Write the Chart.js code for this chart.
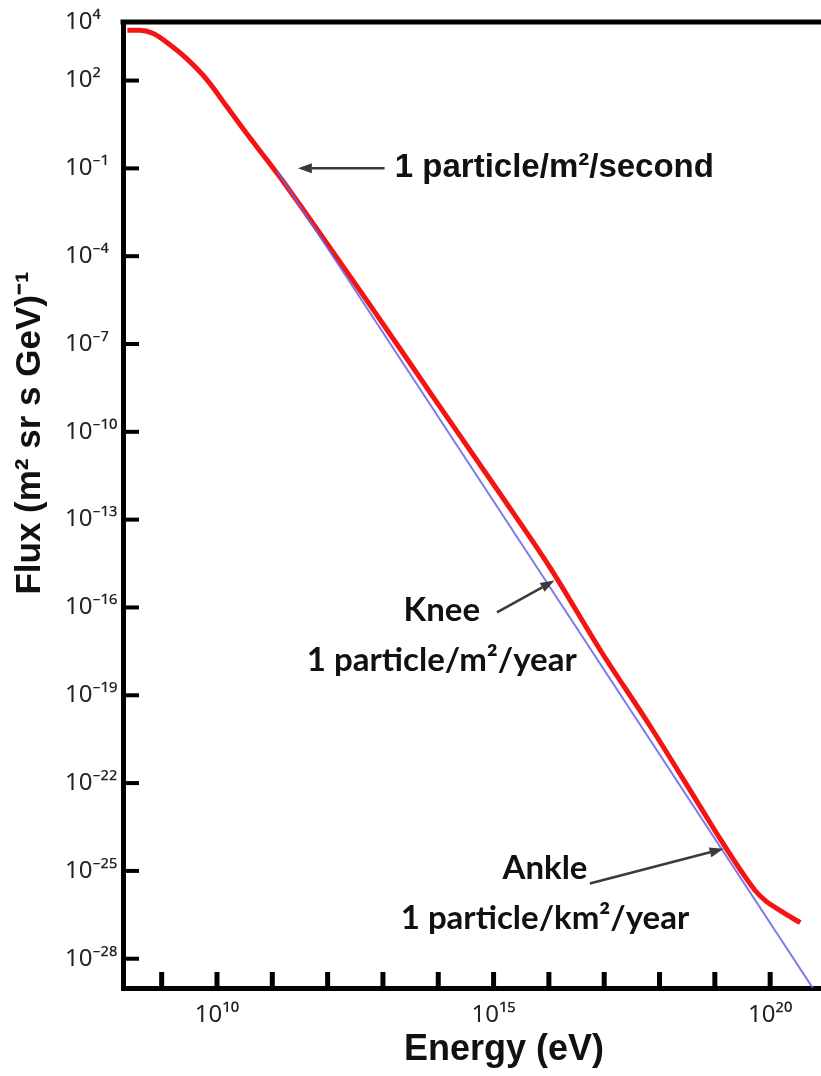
<!DOCTYPE html>
<html>
<head>
<meta charset="utf-8">
<script src="https://cdn.jsdelivr.net/npm/chart.js@4.4.1/dist/chart.umd.min.js"></script>
<style>
  html, body { margin: 0; padding: 0; background: #fff; overflow: hidden; }
  #wrap { width: 821px; height: 1076px; }
</style>
</head>
<body>
<div id="wrap"><canvas id="fluxChart" width="821" height="1076"></canvas></div>
<script>
// ---- data ----
// measured cosmic-ray spectrum (red)
const spectrumEnergy = [2.4e8, 4.0e8, 6.9e8, 1.39e9, 2.83e9, 6.5e9, 1.5e10, 3.44e10, 7.9e10, 1.68e11,
  3.13e11, 5.1e12, 8.0e13, 1.3e15, 1.05e16, 8.4e16, 6.7e17, 5.4e18, 1.24e19, 2.86e19,
  5.4e19, 8.1e19, 1.52e20, 3.5e20];
const spectrumFlux = [5.2e3, 5.2e3, 4.1e3, 1.7e3, 5.6e2, 1.1e2, 13, 1.55, 0.20, 3.0e-2,
  5.8e-3, 3.1e-6, 1.6e-9, 7.8e-13, 2.3e-15, 3.6e-18, 9.1e-21, 1.6e-23, 1.26e-24, 1.12e-25,
  2.1e-26, 9.8e-27, 4.4e-27, 1.7e-27];

// single power law (blue)
const powerLawEnergy = [1.2e11, 6.0e20];
const powerLawFlux = [8.5e-2, 9.5e-30];

// axes
const energyTicks = [1e9, 1e10, 1e11, 1e12, 1e13, 1e14, 1e15, 1e16, 1e17, 1e18, 1e19, 1e20];
const energyLabelled = [1e10, 1e15, 1e20];
const fluxTicks = [1e-28, 1e-25, 1e-22, 1e-19, 1e-16, 1e-13, 1e-10, 1e-7, 1e-4, 1e-1, 1e2, 1e4];

// annotations: anchor = [energy, flux] of first text line centre
const notes = [
  { lines: ['1 particle/m²/second'], at: [1.64e13, 0.107], align: 'left', font: 'bold 33px "Liberation Sans", Arial, sans-serif',
    arrow: { from: [1.07e13, 0.1], to: [2.9e11, 0.1] } },
  { lines: ['Knee', '1 particle/m²/year'], at: [1.16e14, 7.8e-17], align: 'center', font: 'bold 33px Lato, "Liberation Sans", sans-serif',
    arrow: { from: [1.15e15, 6.8e-17], to: [1.26e16, 8.3e-16] } },
  { lines: ['Ankle', '1 particle/km²/year'], at: [8.5e15, 1.2e-25], align: 'center', font: 'bold 33px Lato, "Liberation Sans", sans-serif',
    arrow: { from: [5.5e16, 3.7e-26], to: [1.44e19, 5.7e-25] } }
];

const SUP = { '0': '⁰', '1': '¹', '2': '²', '3': '³', '4': '⁴', '5': '⁵', '6': '⁶', '7': '⁷', '8': '⁸', '9': '⁹', '-': '⁻' };
function powerLabel(v) {
  const e = Math.round(Math.log10(v));
  return '10' + String(e).split('').map(c => SUP[c]).join('');
}

function arrow(ctx, x1, y1, x2, y2) {
  const ang = Math.atan2(y2 - y1, x2 - x1);
  const head = 14, half = 5;
  ctx.beginPath();
  ctx.moveTo(x1, y1);
  ctx.lineTo(x2 - head * Math.cos(ang), y2 - head * Math.sin(ang));
  ctx.stroke();
  ctx.beginPath();
  ctx.moveTo(x2, y2);
  ctx.lineTo(x2 - head * Math.cos(ang) + half * Math.sin(ang), y2 - head * Math.sin(ang) - half * Math.cos(ang));
  ctx.lineTo(x2 - head * Math.cos(ang) - half * Math.sin(ang), y2 - head * Math.sin(ang) + half * Math.cos(ang));
  ctx.closePath();
  ctx.fill();
}

// frame, inward ticks, axis titles and the notes
const decorations = {
  id: 'decorations',
  afterDraw(chart) {
    const { ctx, chartArea: a, scales: { x, y } } = chart;
    ctx.save();
    ctx.fillStyle = '#000';
    ctx.fillRect(a.left - 2.5, a.top - 2.5, a.right - a.left + 5, 5);

    fluxTicks.filter(v => v < 1e4).forEach(v => {
      const py = y.getPixelForValue(v);
      ctx.fillRect(a.left, py - 2, 16, 4);
    });
    energyTicks.forEach(v => {
      const px = x.getPixelForValue(v);
      ctx.fillRect(px - 2.5, a.bottom - 16, 5, 16);
    });

    ctx.fillStyle = '#111';
    ctx.font = 'bold 36px "Liberation Sans", Arial, sans-serif';
    ctx.textAlign = 'center';
    ctx.textBaseline = 'middle';
    ctx.fillText('Energy (eV)', 504, 1050);
    ctx.save();
    ctx.translate(30, 433);
    ctx.rotate(-Math.PI / 2);
    ctx.font = 'bold 35px "Liberation Sans", Arial, sans-serif';
    ctx.fillText('Flux (m² sr s GeV)⁻¹', 0, 0);
    ctx.restore();

    notes.forEach(n => {
      const tx = x.getPixelForValue(n.at[0]);
      const ty = y.getPixelForValue(n.at[1]);
      ctx.font = n.font;
      ctx.textAlign = n.align;
      ctx.fillStyle = '#111';
      n.lines.forEach((line, i) => ctx.fillText(line, tx, ty + i * 50));
      ctx.strokeStyle = '#3a3a3a';
      ctx.fillStyle = '#3a3a3a';
      ctx.lineWidth = 2.5;
      arrow(ctx,
        x.getPixelForValue(n.arrow.from[0]), y.getPixelForValue(n.arrow.from[1]),
        x.getPixelForValue(n.arrow.to[0]), y.getPixelForValue(n.arrow.to[1]));
    });
    ctx.restore();
  }
};

const tickFont = { family: '"Noto Sans", "DejaVu Sans", sans-serif', size: 24 };

new Chart(document.getElementById('fluxChart'), {
  type: 'line',
  data: {
    datasets: [
      {
        label: 'Measured flux',
        data: spectrumEnergy.map((e, i) => ({ x: e, y: spectrumFlux[i] })),
        borderColor: '#f51414',
        borderWidth: 5,
        pointRadius: 0,
        cubicInterpolationMode: 'monotone',
        order: 2
      },
      {
        label: 'Power law',
        data: powerLawEnergy.map((e, i) => ({ x: e, y: powerLawFlux[i] })),
        borderColor: 'rgba(100, 100, 235, 0.85)',
        borderWidth: 2,
        pointRadius: 0,
        order: 1
      }
    ]
  },
  options: {
    responsive: false,
    animation: false,
    layout: { padding: { top: 22, right: 0, left: 65, bottom: 0 } },
    plugins: { legend: { display: false }, tooltip: { enabled: false } },
    scales: {
      x: {
        type: 'logarithmic',
        min: 2e8,
        max: 8.3e20,
        afterBuildTicks: s => { s.ticks = energyTicks.map(v => ({ value: v })); },
        afterFit: s => { s.height = 88; },
        grid: { display: false, drawTicks: false },
        border: { display: true, width: 5, color: '#000' },
        ticks: {
          autoSkip: false, maxRotation: 0, padding: 13, color: '#222', font: tickFont,
          callback: v => energyLabelled.includes(v) ? powerLabel(v) : ''
        }
      },
      y: {
        type: 'logarithmic',
        min: 1e-29,
        max: 1e4,
        afterBuildTicks: s => { s.ticks = fluxTicks.map(v => ({ value: v })); },
        afterFit: s => { s.width = 58; },
        grid: { display: false, drawTicks: false },
        border: { display: true, width: 5, color: '#000' },
        ticks: {
          autoSkip: false, padding: 0, crossAlign: 'far', color: '#222', font: tickFont,
          callback: v => powerLabel(v)
        }
      }
    }
  },
  plugins: [decorations]
});
</script>
</body>
</html>
